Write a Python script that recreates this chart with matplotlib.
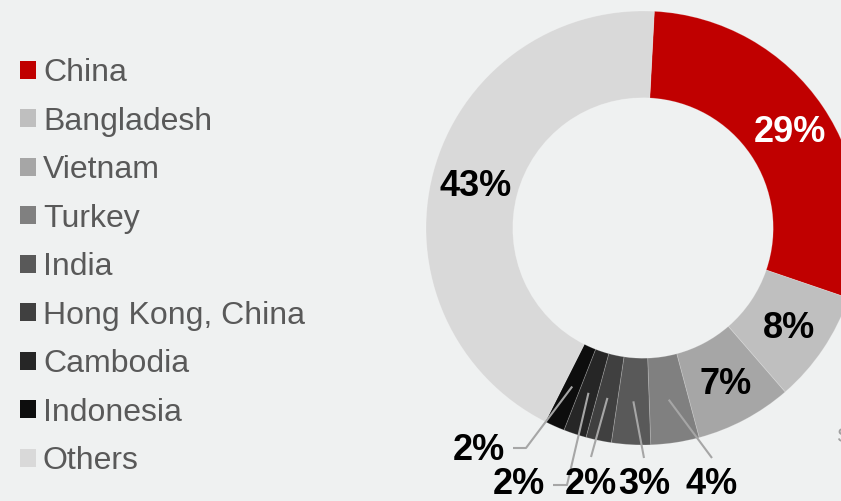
import matplotlib
matplotlib.use("Agg")
import matplotlib.pyplot as plt
import numpy as np

# Share of garment exports by origin (%)
countries = ["China", "Bangladesh", "Vietnam", "Turkey", "India",
             "Hong Kong, China", "Cambodia", "Indonesia", "Others"]
shares = [29.4, 8.4, 7.2, 3.6, 2.9, 1.9, 1.7, 1.5, 43.4]
colors = ["#C00000", "#BFBFBF", "#A6A6A6", "#808080", "#595959",
          "#404040", "#262626", "#0D0D0D", "#D9D9D9"]

plt.rcParams["font.family"] = ["Liberation Sans", "DejaVu Sans"]

W, H, DPI = 841, 501, 100
BG = "#EFF1F1"
fig = plt.figure(figsize=(W / DPI, H / DPI), dpi=DPI, facecolor=BG)
ax = fig.add_axes([0, 0, 1, 1])
ax.set_facecolor(BG)

# donut geometry in pixels (centre and outer radius)
CX, CY, R = 643, 228, 217


def px(x, y):
    """Pixel position (from top-left) to data coordinates."""
    return (x - CX) / R, (CY - y) / R


ring = 0.40
wedges, _ = ax.pie(shares, colors=colors, startangle=87, counterclock=False,
                   radius=1.0,
                   wedgeprops=dict(width=ring, edgecolor=(1, 1, 1, 0.22),
                                   linewidth=0.6))
ax.set_xlim(-CX / R, (W - CX) / R)
ax.set_ylim(-(H - CY) / R, CY / R)
ax.set_aspect("equal")
ax.axis("off")

# wedge mid angles (radians, standard orientation)
mids = [np.deg2rad((w.theta1 + w.theta2) / 2) for w in wedges]
rmid = 1.0 - ring / 2

label_font = dict(fontsize=26, fontweight="bold", ha="center", va="center")

# labels placed inside the ring
inside = {0: ("white", px(790, 133)), 1: ("black", px(789, 329)),
          2: ("black", px(726, 384)), 8: ("black", px(476, 187))}
for i, (col, pos) in inside.items():
    ax.text(pos[0], pos[1], f"{shares[i]:.0f}%", color=col, **label_font)

# small slices: labels below the ring with leader lines
lead_col = "#A6A6A6"
outside = {
    3: (px(712, 484), [px(712, 458)]),
    4: (px(644, 484), [px(644, 458)]),
    5: (px(591, 484), [px(591, 457)]),
    6: (px(519, 484), [px(567, 485), px(553, 485)]),
    7: (px(479, 450), [px(526, 448), px(513, 448)]),
}
for i, (pos, pts) in outside.items():
    sx, sy = rmid * np.cos(mids[i]), rmid * np.sin(mids[i])
    xs = [sx] + [p[0] for p in pts]
    ys = [sy] + [p[1] for p in pts]
    ax.plot(xs, ys, color=lead_col, lw=1.5, solid_capstyle="butt")
    ax.text(pos[0], pos[1], f"{shares[i]:.0f}%", color="black", **label_font)

# legend
leg = fig.legend(wedges, countries, loc="upper left",
                 bbox_to_anchor=(20 / W, 1 - 58 / H),
                 frameon=False, fontsize=23, labelcolor="#595959",
                 handlelength=0.5, handleheight=0.5, handletextpad=0.22,
                 labelspacing=0.58, borderpad=0, borderaxespad=0)
for h in leg.legend_handles:
    h.set_edgecolor("none")

sx, sy = px(836, 437)
ax.text(sx, sy, "Source", color="#A0A0A0", fontsize=15, ha="left",
        va="center", clip_on=False)

fig.savefig("out.png", dpi=DPI, facecolor=BG)
